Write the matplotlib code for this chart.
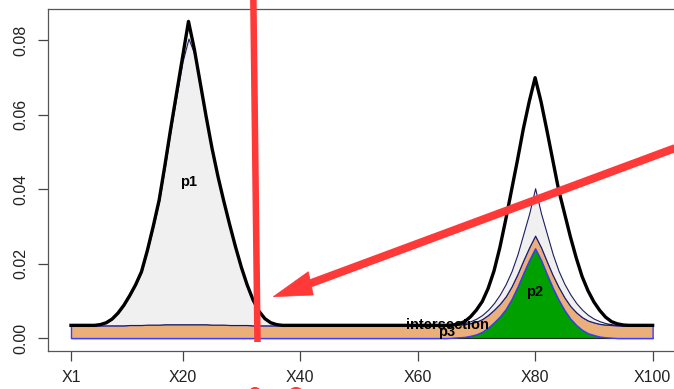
import matplotlib
matplotlib.use("Agg")
import matplotlib.pyplot as plt
import numpy as np
from matplotlib.patches import Polygon, Ellipse

plt.rcParams['font.family'] = ['Liberation Sans', 'DejaVu Sans']

# positions X1..X100
positions = np.arange(1, 101)

# density of each component at every position (stacked bottom to top)
p2 = [
    0, 0, 0, 0, 0, 0, 0, 0, 0, 0,
    0, 0, 0, 0, 0, 0, 0, 0, 0, 0,
    0, 0, 0, 0, 0, 0, 0, 0, 0, 0,
    0, 0, 0, 0, 0, 0, 0, 0, 0, 0,
    0, 0, 0, 0, 0, 0, 0, 0, 0, 0,
    0, 0, 0, 0, 0, 0, 0, 0, 0, 0,
    0, 0, 0, 0, 0, 0.0001, 0.0002, 0.0003, 0.0006, 0.0010,
    0.0017, 0.0028, 0.0042, 0.0058, 0.0078, 0.0105, 0.0138, 0.0175, 0.0210, 0.0241,
    0.0210, 0.0172, 0.0135, 0.0103, 0.0075, 0.0052, 0.0035, 0.0022, 0.0013, 0.0008,
    0.0004, 0.0002, 0.0001, 0, 0, 0, 0, 0, 0, 0,
]

p3 = [
    0.0034, 0.0034, 0.0034, 0.0034, 0.0034, 0.0034, 0.0034, 0.0034, 0.0034, 0.0034,
    0.0035, 0.0035, 0.0035, 0.0036, 0.0036, 0.0036, 0.0037, 0.0037, 0.0037, 0.0037,
    0.0037, 0.0037, 0.0037, 0.0037, 0.0036, 0.0036, 0.0036, 0.0035, 0.0035, 0.0035,
    0.0035, 0.0034, 0.0034, 0.0034, 0.0034, 0.0034, 0.0034, 0.0034, 0.0034, 0.0034,
    0.0034, 0.0034, 0.0034, 0.0034, 0.0034, 0.0034, 0.0034, 0.0034, 0.0034, 0.0034,
    0.0034, 0.0034, 0.0034, 0.0034, 0.0034, 0.0034, 0.0034, 0.0034, 0.0034, 0.0034,
    0.0034, 0.0034, 0.0034, 0.0034, 0.0034, 0.0034, 0.0034, 0.0034, 0.0034, 0.0034,
    0.0034, 0.0034, 0.0034, 0.0034, 0.0034, 0.0034, 0.0034, 0.0034, 0.0034, 0.0034,
    0.0034, 0.0034, 0.0034, 0.0034, 0.0034, 0.0034, 0.0034, 0.0034, 0.0034, 0.0034,
    0.0034, 0.0034, 0.0034, 0.0034, 0.0034, 0.0034, 0.0034, 0.0034, 0.0034, 0.0034,
]

p1 = [
    0, 0, 0, 0, 0, 0.0002, 0.0007, 0.0017, 0.0033, 0.0054,
    0.0079, 0.0108, 0.0143, 0.0199, 0.0262, 0.0331, 0.0424, 0.0523, 0.0616, 0.0706,
    0.0767, 0.0726, 0.0641, 0.0553, 0.0470, 0.0396, 0.0330, 0.0270, 0.0210, 0.0155,
    0.0107, 0.0068, 0.0038, 0.0018, 0.0007, 0.0002, 0, 0, 0, 0,
    0, 0, 0, 0, 0, 0, 0, 0, 0, 0,
    0, 0, 0, 0, 0, 0, 0, 0, 0, 0,
    0, 0, 0, 0, 0, 0, 0.0001, 0.0003, 0.0005, 0.0008,
    0.0011, 0.0014, 0.0018, 0.0025, 0.0033, 0.0041, 0.0053, 0.0071, 0.0091, 0.0127,
    0.0091, 0.0074, 0.0056, 0.0043, 0.0036, 0.0031, 0.0025, 0.0020, 0.0015, 0.0010,
    0.0007, 0.0004, 0.0002, 0.0001, 0, 0, 0, 0, 0, 0,
]

intersection = [
    0, 0, 0, 0, 0, 0, 0, 0, 0, 0,
    0, 0, 0, 0, 0.0002, 0.0003, 0.0004, 0.0005, 0.0007, 0.0012,
    0.0046, 0.0012, 0.0007, 0.0005, 0.0004, 0.0003, 0.0002, 0, 0, 0,
    0, 0, 0, 0, 0, 0, 0, 0, 0, 0,
    0, 0, 0, 0, 0, 0, 0, 0, 0, 0,
    0, 0, 0, 0, 0, 0, 0, 0, 0, 0,
    0, 0, 0, 0, 0, 0, 0.0001, 0.0004, 0.0012, 0.0023,
    0.0036, 0.0057, 0.0086, 0.0126, 0.0173, 0.0218, 0.0253, 0.0282, 0.0300, 0.0297,
    0.0300, 0.0278, 0.0253, 0.0218, 0.0190, 0.0155, 0.0121, 0.0089, 0.0065, 0.0045,
    0.0029, 0.0016, 0.0007, 0.0003, 0.0001, 0, 0, 0, 0, 0,
]

x_tick_pos = [1, 20, 40, 60, 80, 100]
x_tick_labels = ["X1", "X20", "X40", "X60", "X80", "X100"]
y_tick_pos = [0.00, 0.02, 0.04, 0.06, 0.08]
y_tick_labels = ["0.00", "0.02", "0.04", "0.06", "0.08"]

label_names = ["p1", "p2", "p3", "intersection"]
label_x = [21, 80, 65, 65]
label_y = [0.042, 0.0123, 0.0016, 0.0035]

# cumulative layer boundaries
base = np.zeros(len(positions))
top_p2 = base + np.array(p2)
top_p3 = top_p2 + np.array(p3)
top_p1 = top_p3 + np.array(p1)
total = top_p1 + np.array(intersection)

fig = plt.figure(figsize=(6.74, 3.89), dpi=100)
ax = fig.add_axes([0.0708, 0.0985, 0.932, 0.879])

ax.fill_between(positions, base, top_p2, facecolor="#00A000",
                edgecolor="#1e2e1e", linewidth=0.8, zorder=2)
ax.fill_between(positions, top_p2, top_p3, facecolor="#EBB07A",
                edgecolor="#3c3cff", linewidth=1.0, zorder=3)
ax.fill_between(positions, top_p3, top_p1, facecolor="#F0F0F0",
                edgecolor="#1c1c5c", linewidth=0.8, zorder=4)
ax.plot(positions, total, color="black", linewidth=2.4, zorder=5)

for name, lx, ly in zip(label_names, label_x, label_y):
    ax.text(lx, ly, name, ha="center", va="center", fontsize=10.5,
            fontweight="bold", color="black", zorder=6)

ax.set_xlim(-2.96, 103.96)
ax.set_ylim(-0.0034, 0.0884)
ax.set_xticks(x_tick_pos)
ax.set_xticklabels(x_tick_labels, fontsize=11.5)
ax.set_yticks(y_tick_pos)
ax.set_yticklabels(y_tick_labels, fontsize=11.5, rotation=90, va="center")
ax.tick_params(axis="both", direction="out", length=7, width=0.9,
               color="#444444", labelcolor="#222222")
ax.tick_params(axis="x", pad=7)
ax.tick_params(axis="y", pad=7)
for sp in ax.spines.values():
    sp.set_color("#555555")
    sp.set_linewidth(0.9)

# red markup drawn over the chart in pixel coordinates
red = "#FF3838"
ov = fig.add_axes([0, 0, 1, 1])
ov.set_xlim(0, 674)
ov.set_ylim(389, 0)
ov.axis("off")
ov.patch.set_alpha(0)
ov.plot([253.3, 257.5], [-5, 342], color=red, linewidth=4.7,
        solid_capstyle="butt")
ov.plot([680, 305], [146.3, 285.4], color=red, linewidth=5.8,
        solid_capstyle="butt")
ov.add_patch(Polygon([(273.3, 296.7), (308.3, 271.7), (313.3, 295.0)],
                     closed=True, facecolor=red, edgecolor=red, linewidth=0.5))
ov.add_patch(Ellipse((255, 395), 12, 14, fill=False, edgecolor=red, linewidth=1.5))
ov.add_patch(Ellipse((296, 395), 14, 14, fill=False, edgecolor=red, linewidth=1.5))

fig.savefig("out.png", dpi=100)
